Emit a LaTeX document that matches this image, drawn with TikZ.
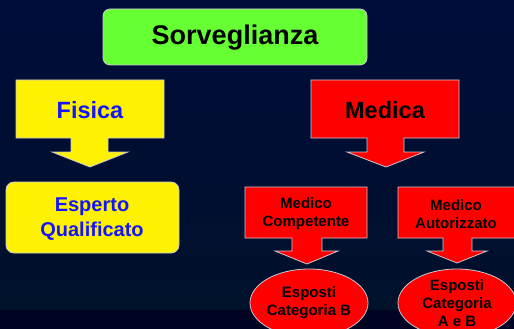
\documentclass[tikz,border=0pt]{standalone}
\usepackage{fontspec}
\setmainfont{Liberation Sans}
\definecolor{bgtop}{RGB}{0,12,58}
\definecolor{bgbot}{RGB}{0,17,42}
\definecolor{bgband}{RGB}{0,3,34}
\definecolor{boxgreen}{RGB}{102,255,51}
\definecolor{edge}{RGB}{200,200,210}
\definecolor{textblue}{RGB}{20,20,255}
\begin{document}
\begin{tikzpicture}[x=1pt,y=-1pt,
    box/.style={draw=edge,line width=0.8pt},
    label/.style={font=\bfseries,align=center,inner sep=0pt}]
      \useasboundingbox (0,0) rectangle (514,329);
      % background
      \shade[top color=bgtop,bottom color=bgbot] (0,0) rectangle (514,310);
      \fill[bgband] (0,310) rectangle (514,329);
      \begin{scope}
        \clip (0,0) rectangle (514,329);
        % title
        \draw[box,fill=boxgreen,rounded corners=7pt] (103,9) rectangle (367,65);
        % callouts
        \draw[box,fill=yellow] (16,80) -- (164,80) -- (164,138) -- (108,138) -- (108,152)
          -- (128,152) -- (90,167) -- (52,152) -- (71,152) -- (71,138) -- (16,138) -- cycle;
        \draw[box,fill=red] (311,80) -- (459,80) -- (459,138) -- (404,138) -- (404,152)
          -- (424,152) -- (386,167) -- (347,152) -- (367,152) -- (367,138) -- (311,138) -- cycle;
        \draw[box,fill=red] (245,187) -- (367,187) -- (367,238) -- (322,238) -- (322,251)
          -- (338,251) -- (307,264) -- (275,251) -- (292,251) -- (292,238) -- (245,238) -- cycle;
        \draw[box,fill=red] (398,187) -- (520,187) -- (520,238) -- (472,238) -- (472,251)
          -- (487,251) -- (457,263) -- (427,251) -- (443,251) -- (443,238) -- (398,238) -- cycle;
        % boxes
        \draw[box,fill=yellow,rounded corners=8pt] (6,182) rectangle (179,253);
        \draw[box,fill=red] (309,303) ellipse [x radius=59,y radius=34];
        \draw[box,fill=red] (457,303) ellipse [x radius=59,y radius=34];
      \end{scope}
      \node[label,font=\bfseries\fontsize{27}{31}\selectfont] (sorv) at (235,38) {Sorveglianza};
      \node[label,text=textblue,font=\bfseries\fontsize{23.5}{28}\selectfont] (fisica) at (90,110) {Fisica};
      \node[label,font=\bfseries\fontsize{23.5}{28}\selectfont] (medica) at (385,110) {Medica};
      \node[label,text=textblue,font=\bfseries\fontsize{20}{25}\selectfont] (esperto) at (92,219) {Esperto\\Qualificato};
      \node[label,font=\bfseries\fontsize{15}{18}\selectfont] (competente) at (306,214) {Medico\\Competente};
      \node[label,font=\bfseries\fontsize{15}{18}\selectfont] (autorizzato) at (456,214) {Medico\\Autorizzato};
      \node[label,font=\bfseries\fontsize{15}{18}\selectfont] (catb) at (309,303) {Esposti\\Categoria B};
      \node[label,font=\bfseries\fontsize{15}{18}\selectfont] (catab) at (457,303) {Esposti\\Categoria\\A e B};
    \end{tikzpicture}
\end{document}
